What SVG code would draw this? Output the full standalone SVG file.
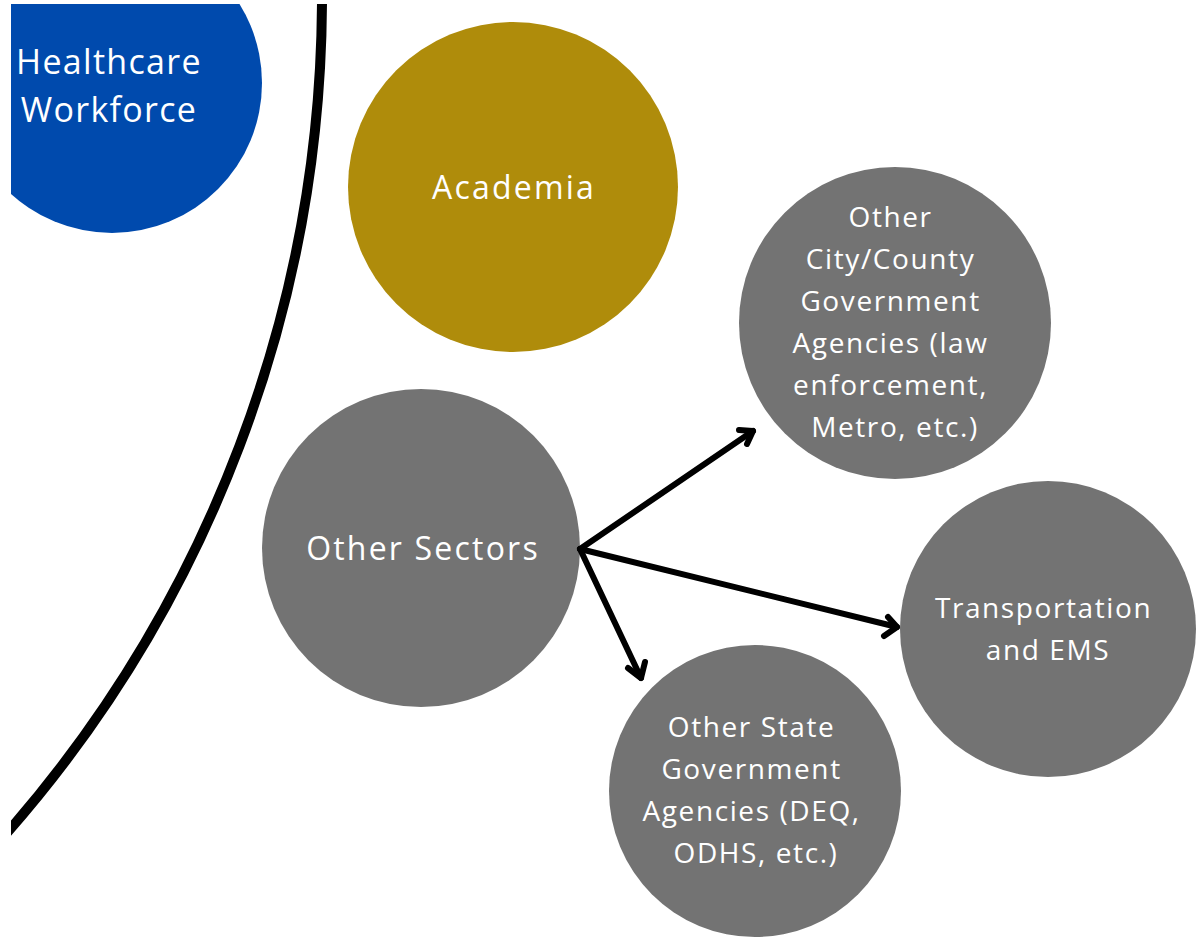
<svg xmlns="http://www.w3.org/2000/svg" width="1197" height="937" viewBox="0 0 1197 937">
<defs>
<style>
.lbl{font-family:"Open Sans","Liberation Sans",sans-serif;fill:#ffffff;text-anchor:middle;}
.big{font-size:32px;letter-spacing:2.2px;}
.small{font-size:28px;letter-spacing:1.6px;}
.grey{fill:#737373;}
.conn{stroke:#000;stroke-width:6;fill:none;stroke-linecap:round;stroke-linejoin:round;}
</style>
<clipPath id="frame"><rect x="11" y="4" width="1186" height="933"/></clipPath>
</defs>
<rect width="1197" height="937" fill="#ffffff"/>
<g clip-path="url(#frame)">
<g id="healthcare">
<circle cx="112" cy="83" r="150" fill="#004AAD"/>
<text class="lbl" x="109" y="74" font-size="34" letter-spacing="1.3">Healthcare</text>
<text class="lbl" x="109" y="122" font-size="34" letter-spacing="1.3">Workforce</text>
</g>
<g id="boundary">
<path d="M322,0 A1269,1269 0 0 1 5,835" fill="none" stroke="#000" stroke-width="10"/>
</g>
<g id="academia">
<circle cx="513" cy="187" r="165" fill="#AF8C0B"/>
<text class="lbl big" x="514" y="199">Academia</text>
</g>
<g id="other-sectors">
<circle class="grey" cx="421" cy="548" r="159"/>
<text class="lbl big" x="423" y="560">Other Sectors</text>
</g>
<g id="city-county">
<circle class="grey" cx="895" cy="323" r="156"/>
<text class="lbl small">
<tspan x="895" y="227">Other</tspan>
<tspan x="895" y="269">City/County</tspan>
<tspan x="895" y="311">Government</tspan>
<tspan x="895" y="353">Agencies (law</tspan>
<tspan x="895" y="395">enforcement,</tspan>
<tspan x="895" y="437">Metro, etc.)</tspan>
</text>
</g>
<g id="transportation">
<circle class="grey" cx="1048" cy="629" r="148"/>
<text class="lbl small">
<tspan x="1048" y="618">Transportation</tspan>
<tspan x="1048" y="660">and EMS</tspan>
</text>
</g>
<g id="state">
<circle class="grey" cx="755" cy="791" r="146"/>
<text class="lbl small">
<tspan x="756" y="737">Other State</tspan>
<tspan x="756" y="779">Government</tspan>
<tspan x="756" y="821">Agencies (DEQ,</tspan>
<tspan x="756" y="863">ODHS, etc.)</tspan>
</text>
</g>
<g id="connectors" class="conn">
<path d="M580,549 L753,431"/>
<path d="M739,430 L753,431 L747,444"/>
<path d="M580,549 L897,627"/>
<path d="M884,636 L897,627 L888,617"/>
<path d="M580,549 L641,678"/>
<path d="M628,668 L641,678 L645,662"/>
</g>
</g>
</svg>
